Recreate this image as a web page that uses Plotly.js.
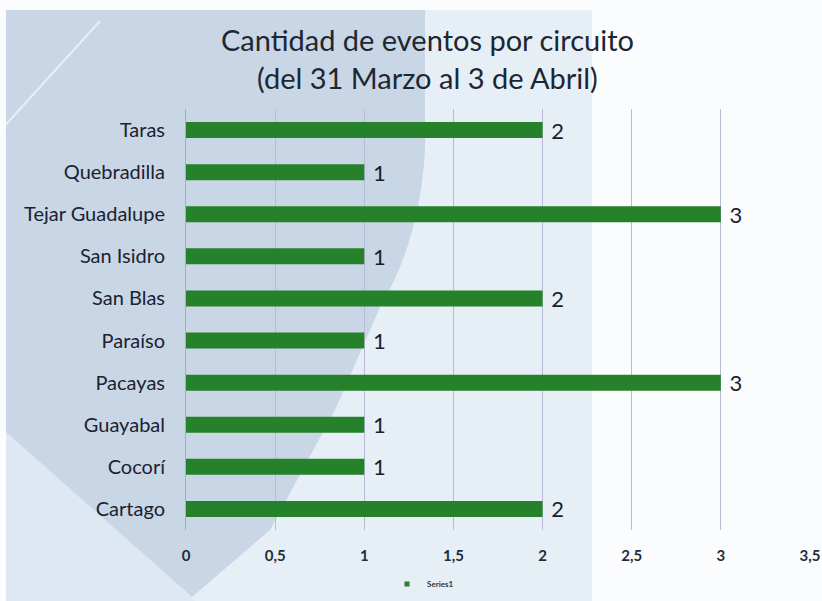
<!DOCTYPE html>
<html>
<head>
<meta charset="utf-8">
<script src="https://cdn.plot.ly/plotly-3.0.1.min.js"></script>
<style>html,body{margin:0;padding:0;background:#fafcfd;}#chart{width:822px;height:601px;}</style>
</head>
<body>
<div id="chart"></div>
<script>
const categories = ['Taras','Quebradilla','Tejar Guadalupe','San Isidro','San Blas','Paraíso','Pacayas','Guayabal','Cocorí','Cartago'];
const values = [2,1,3,1,2,1,3,1,1,2];
const seriesName = 'Series1';
const xTicks = [0,0.5,1,1.5,2,2.5,3,3.5];

// plot area in pixels (for background decoration only)
const L = 186, R = 810, T = 109, B = 530;
function P(px, py){ return ((px-L)/(R-L)).toFixed(4) + ',' + ((B-py)/(B-T)).toFixed(4); }

const shapes = [
  {type:'path', xref:'paper', yref:'paper', layer:'below', line:{width:0}, fillcolor:'#e6eef6',
   path:'M'+P(6,10)+' L'+P(592,10)+' L'+P(592,601)+' L'+P(6,601)+' Z'},
  {type:'path', xref:'paper', yref:'paper', layer:'below', line:{width:0}, fillcolor:'#dde8f2',
   path:'M'+P(6,430)+' L'+P(195,601)+' L'+P(6,601)+' Z'},
  {type:'path', xref:'paper', yref:'paper', layer:'below', line:{width:0}, fillcolor:'#c8d6e5',
   path:'M'+P(6,10)+' L'+P(425,10)+' L'+P(425,150)+' Q'+P(420,240)+' '+P(380,307)+' L'+P(335,410)+' L'+P(270,530)+' L'+P(192,597)+' L'+P(6,432)+' Z'},
  {type:'line', xref:'paper', yref:'paper', layer:'below', line:{width:2, color:'rgba(255,255,255,0.6)'},
   x0:(0-L)/(R-L), y0:(B-131)/(B-T), x1:(100-L)/(R-L), y1:(B-21)/(B-T)}
];

const barTrace = {
  type:'bar', orientation:'h', name: seriesName,
  y: categories, x: values,
  width: 0.38,
  marker:{color:'#26822a', line:{width:0}},
  text: values.map(v => '\u00a0' + String(v)), textposition:'outside', cliponaxis:false,
  constraintext:'none',
  textfont:{family:'Lato, sans-serif', size:22, color:'#1b1e26'},
  showlegend:false
};
const legendTrace = {
  type:'scatter', mode:'markers', name: seriesName,
  x:[null], y:[null],
  marker:{symbol:'square', size:5, color:'#26822a'},
  showlegend:true, hoverinfo:'skip'
};

const layout = {
  width:822, height:601,
  margin:{l:L, r:822-R, t:T, b:601-B, pad:0, autoexpand:false},
  paper_bgcolor:'#fafcfd', plot_bgcolor:'rgba(0,0,0,0)',
  separators:', ',
  font:{family:'Lato, sans-serif', color:'#1b2232'},
  title:{text:'Cantidad de eventos por circuito<br>(del 31 Marzo al 3 de Abril)',
         font:{family:'Lato, sans-serif', size:29, color:'#1d2733'},
         x:0.52, xref:'container', xanchor:'center', y:1-51/601, yref:'container', yanchor:'middle'},
  xaxis:{range:[0,3.5], tickvals:xTicks, showgrid:true, gridcolor:'#b8bbd6', gridwidth:1,
         zeroline:false, showline:false, ticks:'', ticklabelstandoff:15,
         tickfont:{family:'Lato, sans-serif', size:15, color:'#1f2d3d', weight:'bold'}, fixedrange:true},
  yaxis:{autorange:'reversed', type:'category', showline:true, linecolor:'#a9adb8', linewidth:1,
         ticks:'', ticklabelstandoff:16, showgrid:false,
         tickfont:{family:'Lato, sans-serif', size:20, color:'#1b2232'}},
  legend:{orientation:'h', x:(387-L)/(R-L), xanchor:'left', y:(B-584)/(B-T), yanchor:'middle',
          font:{family:'Lato, sans-serif', size:8, color:'#333', weight:'bold'}, itemwidth:30, bgcolor:'rgba(0,0,0,0)'},
  showlegend:true,
  shapes: shapes
};

Plotly.newPlot('chart', [barTrace, legendTrace], layout, {displayModeBar:false, staticPlot:true});
</script>
</body>
</html>
